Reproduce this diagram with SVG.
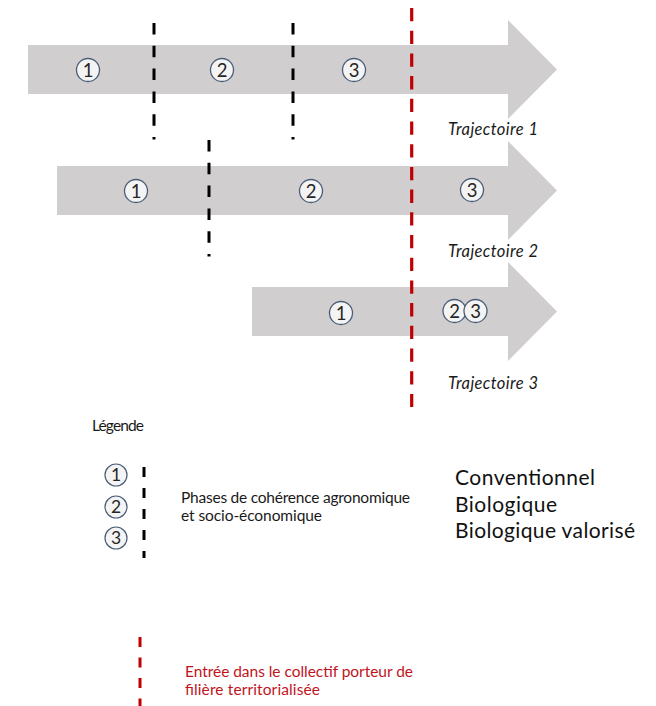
<svg xmlns="http://www.w3.org/2000/svg" width="656" height="706" viewBox="0 0 656 706">
<style>
.arrow{fill:#D0CECE;}
.c{fill:#F4F4F4;stroke:#4A5E78;stroke-width:1.3;}
.d{font-family:Lato,"Liberation Sans",sans-serif;font-size:18.5px;fill:#262626;text-anchor:middle;}
.cs{fill:#F4F4F4;stroke:#4A5E78;stroke-width:1.2;}
.ds{font-family:Lato,"Liberation Sans",sans-serif;font-size:17.5px;fill:#262626;text-anchor:middle;}
.traj{font-family:Lato,"Liberation Sans",sans-serif;font-size:16.5px;font-style:italic;fill:#1a1a1a;}
.txt{font-family:Lato,"Liberation Sans",sans-serif;font-size:15.5px;fill:#1a1a1a;}
.big{font-family:Lato,"Liberation Sans",sans-serif;font-size:21px;fill:#111;}
.red{font-family:Lato,"Liberation Sans",sans-serif;font-size:15.5px;fill:#C0141C;}
.bk{stroke:#000;stroke-width:3;stroke-dasharray:11.5 11.3;fill:none;}
.rd{stroke:#C00000;stroke-width:3.2;stroke-dasharray:13.3 9.4;fill:none;}
</style>
<rect width="656" height="706" fill="#fff"/>
<g id="trajectoire1">
<polygon class="arrow" points="28,45 508,45 508,20 557,69.5 508,119 508,94 28,94"/>
<circle class="c" cx="88" cy="70" r="11.5"/><text class="d" x="88" y="76.5">1</text>
<circle class="c" cx="222" cy="70" r="11.5"/><text class="d" x="222" y="76.5">2</text>
<circle class="c" cx="354" cy="70" r="11.5"/><text class="d" x="354" y="76.5">3</text>
<text class="traj" x="448" y="135" textLength="90">Trajectoire 1</text>
</g>
<g id="trajectoire2">
<polygon class="arrow" points="57,166 508,166 508,141 557,190.5 508,240 508,215 57,215"/>
<circle class="c" cx="136" cy="191" r="11.5"/><text class="d" x="136" y="197.5">1</text>
<circle class="c" cx="311" cy="191" r="11.5"/><text class="d" x="311" y="197.5">2</text>
<circle class="c" cx="472" cy="190" r="11.5"/><text class="d" x="472" y="196.5">3</text>
<text class="traj" x="448" y="257" textLength="90">Trajectoire 2</text>
</g>
<g id="trajectoire3">
<polygon class="arrow" points="252,287 508,287 508,262 557,311.5 508,361 508,336 252,336"/>
<circle class="c" cx="341" cy="313" r="11.5"/><text class="d" x="341" y="319.5">1</text>
<circle class="c" cx="454.5" cy="311" r="11.5"/><text class="d" x="454.5" y="317.5">2</text>
<circle class="c" cx="475.5" cy="311" r="11.5"/><text class="d" x="475.5" y="317.5">3</text>
<text class="traj" x="448" y="389" textLength="90">Trajectoire 3</text>
</g>
<g id="connectors">
<line class="bk" x1="154" y1="23" x2="154" y2="139.5"/>
<line class="bk" x1="293" y1="23" x2="293" y2="139.5"/>
<line class="bk" x1="209" y1="140" x2="209" y2="256.5"/>
<line class="rd" x1="411.7" y1="8" x2="411.7" y2="407"/>
</g>
<g id="legende">
<text class="txt" x="92" y="431" textLength="52" font-size="14.5">Légende</text>
<circle class="cs" cx="116" cy="475" r="11"/><text class="ds" x="116" y="481">1</text>
<circle class="cs" cx="116" cy="507" r="11"/><text class="ds" x="116" y="513">2</text>
<circle class="cs" cx="116" cy="538" r="11"/><text class="ds" x="116" y="544">3</text>
<line x1="144" y1="467" x2="144" y2="558" stroke="#000" stroke-width="3" stroke-dasharray="10 11"/>
<text class="txt" x="181" y="503" textLength="229">Phases de cohérence agronomique</text>
<text class="txt" x="181" y="521" textLength="141">et socio-économique</text>
<line x1="140" y1="637" x2="140" y2="706" stroke="#C00000" stroke-width="3" stroke-dasharray="10 10.5"/>
<text class="red" x="185" y="677" textLength="228">Entrée dans le collectif porteur de</text>
<text class="red" x="185" y="695" textLength="135">filière territorialisée</text>
</g>
<g id="types">
<text class="big" x="455" y="485" textLength="140">Conventionnel</text>
<text class="big" x="455" y="512" textLength="102">Biologique</text>
<text class="big" x="455" y="538" textLength="180">Biologique valorisé</text>
</g>
</svg>
